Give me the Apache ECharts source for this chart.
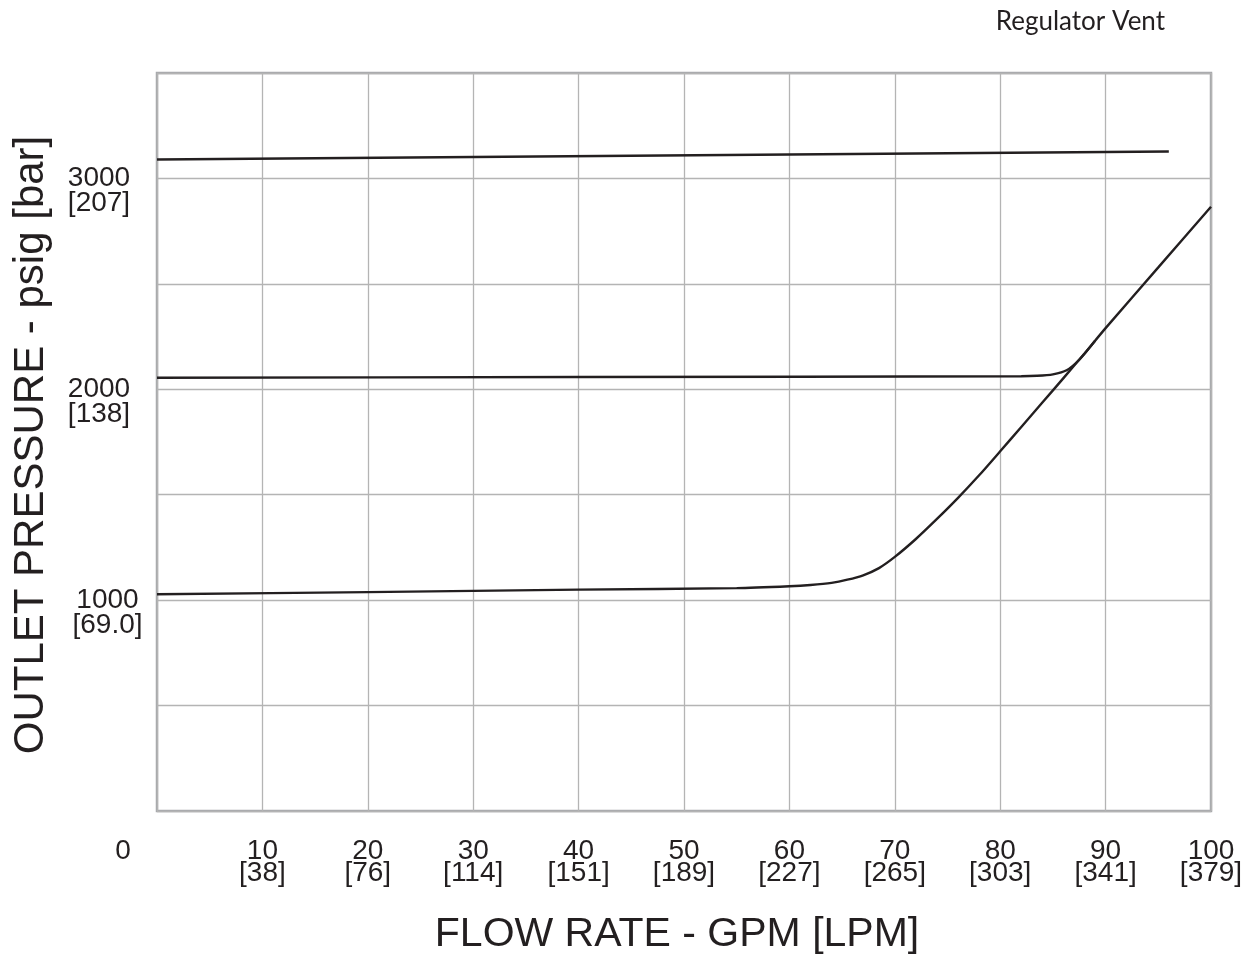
<!DOCTYPE html>
<html>
<head>
<meta charset="utf-8">
<script src="https://cdn.jsdelivr.net/npm/echarts@6/dist/echarts.min.js"></script>
<style>html,body{margin:0;padding:0;background:#fff}#c{width:1255px;height:959px}</style>
</head>
<body>
<div id="c"></div>
<script>
// ---- data ----
const xTicks = [0,10,20,30,40,50,60,70,80,90,100];
const xTickLpm = ['', '38','76','114','151','189','227','265','303','341','379'];
const yTickPsi = [1000, 2000, 3000];
const yTickBar = ['69.0','138','207'];

const topGpm = [0, 96];
const topPsi = [3090, 3128];

const midGpm = [0, 40, 82, 83.5, 85, 86.3, 87.5, 89];
const midPsi = [2055, 2058, 2062, 2064, 2071, 2090, 2140, 2230];

const lowGpm = [0, 20, 40, 55, 60, 62, 64, 65.5, 67, 68.5, 70, 72, 74, 76, 78, 80, 82, 84, 86, 88, 90, 95, 100];
const lowPsi = [1028, 1038, 1050, 1057, 1066, 1072, 1082, 1097, 1118, 1152, 1205, 1290, 1385, 1485, 1592, 1706, 1821, 1937, 2053, 2170, 2290, 2578, 2866];

const pair = (xs, ys) => xs.map((x, i) => [x, ys[i]]);

const ink = '#231f20';
const font = 'Liberation Sans';

const chart = echarts.init(document.getElementById('c'), null, {renderer: 'canvas'});
const lineStyle = {color: ink, width: 2.4};
chart.setOption({
  animation: false,
  title: {
    text: 'Regulator Vent', right: 85, top: 4,
    textStyle: {fontFamily: 'Lato', fontWeight: 'normal', fontSize: 26, color: ink}
  },
  grid: {left: 157, right: 44, top: 73, bottom: 148, show: true, borderColor: '#a7a9ac', borderWidth: 2.5,
         containLabel: false, outerBoundsMode: 'none'},
  xAxis: {
    type: 'value', min: 0, max: 100, interval: 10,
    name: 'FLOW RATE - GPM [LPM]', nameLocation: 'middle', nameGap: 104,
    nameTextStyle: {fontFamily: font, fontSize: 41, color: ink, lineHeight: 40, padding: [0, 14, 0, 0]},
    axisLine: {show: false}, axisTick: {show: false},
    splitLine: {show: true, lineStyle: {color: '#b4b4b4', width: 1.3}},
    axisLabel: {
      margin: 29, verticalAlign: 'top', color: ink, fontFamily: font, fontSize: 28, lineHeight: 22,
      formatter: v => {
        const i = xTicks.indexOf(v);
        if (v === 0) return '{z|0}';
        return v + '\n[' + xTickLpm[i] + ']';
      },
      rich: {z: {fontFamily: font, fontSize: 28, lineHeight: 22, color: ink, padding: [0, 68, 0, 0]}}
    }
  },
  yAxis: {
    type: 'value', min: 0, max: 3500, interval: 500,
    name: 'OUTLET PRESSURE - psig [bar]', nameLocation: 'middle', nameGap: 105, nameMoveOverlap: false,
    nameTextStyle: {fontFamily: font, fontSize: 42, color: ink, padding: [0, 6, 0, 0]},
    axisLine: {show: false}, axisTick: {show: false},
    splitLine: {show: true, lineStyle: {color: '#b4b4b4', width: 1.3}},
    axisLabel: {
      margin: 58, align: 'center', verticalAlign: 'middle', color: ink, fontFamily: font, fontSize: 28, lineHeight: 25,
      formatter: v => {
        const i = yTickPsi.indexOf(v);
        if (i < 0) return '';
        const s = v === 1000 ? 'p' : 'n';
        return '{' + s + '| }\n{' + s + '|' + v + '}\n{' + s + '|[' + yTickBar[i] + ']}';
      },
      rich: {
        n: {fontFamily: font, fontSize: 28, lineHeight: 25, color: ink, align: 'center'},
        p: {fontFamily: font, fontSize: 28, lineHeight: 25, color: ink, align: 'center', padding: [0, 0, 0, 17]}
      }
    }
  },
  series: [
    {type: 'line', data: pair(topGpm, topPsi), showSymbol: false, lineStyle},
    {type: 'line', data: pair(midGpm, midPsi), showSymbol: false, smooth: 0.25, lineStyle},
    {type: 'line', data: pair(lowGpm, lowPsi), showSymbol: false, smooth: 0.25, lineStyle}
  ]
});
</script>
</body>
</html>
